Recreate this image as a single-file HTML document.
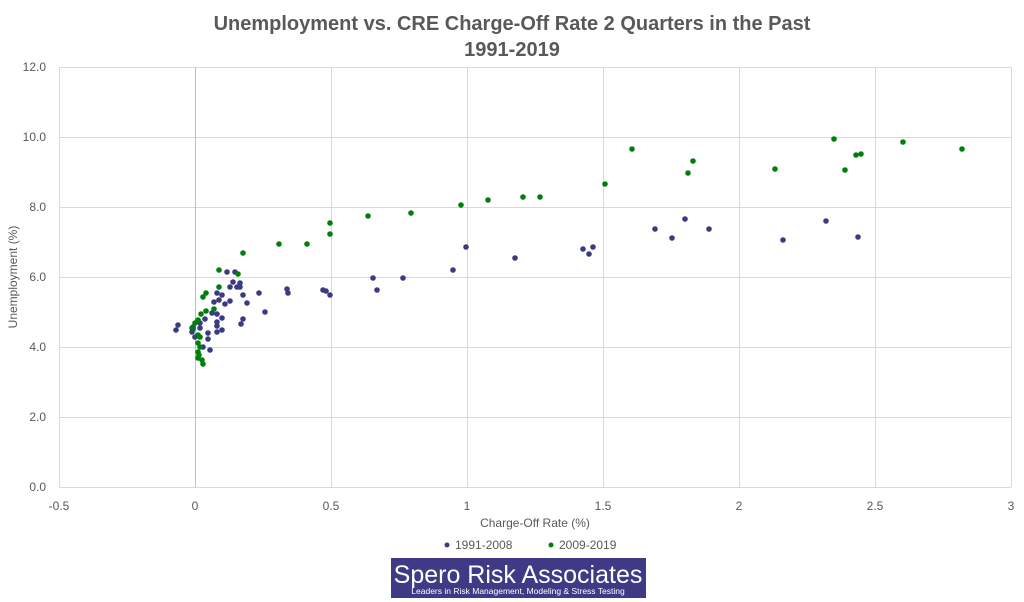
<!DOCTYPE html><html><head><style>body{margin:0;background:#fff}svg{display:block}text{font-family:"Liberation Sans",sans-serif}</style></head><body>
<svg width="1024" height="602" viewBox="0 0 1024 602" xmlns="http://www.w3.org/2000/svg">
<rect width="1024" height="602" fill="#fff"/>
<text x="512" y="30" font-size="20" font-weight="bold" fill="#595959" text-anchor="middle">Unemployment vs. CRE Charge-Off Rate 2 Quarters in the Past</text>
<text x="512" y="56" font-size="20" font-weight="bold" fill="#595959" text-anchor="middle">1991-2019</text>
<g stroke="#d9d9d9" stroke-width="1">
<line x1="59" y1="67.5" x2="1011" y2="67.5"/><line x1="59" y1="137.5" x2="1011" y2="137.5"/><line x1="59" y1="207.5" x2="1011" y2="207.5"/><line x1="59" y1="277.5" x2="1011" y2="277.5"/><line x1="59" y1="347.5" x2="1011" y2="347.5"/><line x1="59" y1="417.5" x2="1011" y2="417.5"/><line x1="59" y1="487.5" x2="1011" y2="487.5"/>
<line x1="59.5" y1="67" x2="59.5" y2="487"/><line x1="331.5" y1="67" x2="331.5" y2="487"/><line x1="467.5" y1="67" x2="467.5" y2="487"/><line x1="603.5" y1="67" x2="603.5" y2="487"/><line x1="739.5" y1="67" x2="739.5" y2="487"/><line x1="875.5" y1="67" x2="875.5" y2="487"/><line x1="1011.5" y1="67" x2="1011.5" y2="487"/>
</g>
<line x1="195.5" y1="67" x2="195.5" y2="487" stroke="#bfbfbf"/>
<g font-size="12" fill="#595959" text-anchor="end">
<text x="46" y="71">12.0</text><text x="46" y="141">10.0</text><text x="46" y="211">8.0</text><text x="46" y="281">6.0</text><text x="46" y="351">4.0</text><text x="46" y="421">2.0</text><text x="46" y="491">0.0</text></g>
<g font-size="12" fill="#595959" text-anchor="middle">
<text x="59" y="510">-0.5</text><text x="195" y="510">0</text><text x="331" y="510">0.5</text><text x="467" y="510">1</text><text x="603" y="510">1.5</text><text x="739" y="510">2</text><text x="875" y="510">2.5</text><text x="1011" y="510">3</text></g>
<text x="535" y="527" font-size="12" fill="#595959" text-anchor="middle">Charge-Off Rate (%)</text>
<text transform="translate(17,277) rotate(-90)" font-size="12" fill="#595959" text-anchor="middle">Unemployment (%)</text>
<circle cx="447" cy="545" r="2.5" fill="#3b3b83"/><text x="455" y="549" font-size="12" fill="#595959">1991-2008</text>
<circle cx="551" cy="545" r="2.5" fill="#00800a"/><text x="559" y="549" font-size="12" fill="#595959">2009-2019</text>
<rect x="391" y="558" width="255" height="40" fill="#3f3a85"/>
<text x="518" y="583" font-size="25" fill="#fff" text-anchor="middle">Spero Risk Associates</text>
<text x="518" y="594" font-size="8.5" fill="#fff" text-anchor="middle">Leaders in Risk Management, Modeling &amp; Stress Testing</text>
<g fill="#3b3b83">
<circle cx="176" cy="330" r="2.8"/><circle cx="178" cy="325" r="2.8"/><circle cx="227" cy="272" r="2.8"/><circle cx="235" cy="272" r="2.8"/><circle cx="233" cy="282" r="2.8"/><circle cx="240" cy="283" r="2.8"/><circle cx="237" cy="287" r="2.8"/><circle cx="230" cy="287" r="2.8"/><circle cx="240" cy="287" r="2.8"/><circle cx="287" cy="289" r="2.8"/><circle cx="259" cy="293" r="2.8"/><circle cx="243" cy="295" r="2.8"/><circle cx="247" cy="303" r="2.8"/><circle cx="265" cy="312" r="2.8"/><circle cx="222" cy="295" r="2.8"/><circle cx="217" cy="293" r="2.8"/><circle cx="214" cy="302" r="2.8"/><circle cx="219" cy="300" r="2.8"/><circle cx="225" cy="304" r="2.8"/><circle cx="230" cy="301" r="2.8"/><circle cx="212" cy="313" r="2.8"/><circle cx="217" cy="314" r="2.8"/><circle cx="222" cy="318" r="2.8"/><circle cx="217" cy="322" r="2.8"/><circle cx="217" cy="326" r="2.8"/><circle cx="222" cy="330" r="2.8"/><circle cx="217" cy="332" r="2.8"/><circle cx="208" cy="333" r="2.8"/><circle cx="208" cy="339" r="2.8"/><circle cx="243" cy="319" r="2.8"/><circle cx="241" cy="324" r="2.8"/><circle cx="205" cy="319" r="2.8"/><circle cx="200" cy="323" r="2.8"/><circle cx="200" cy="328" r="2.8"/><circle cx="193" cy="329" r="2.8"/><circle cx="192" cy="332" r="2.8"/><circle cx="195" cy="337" r="2.8"/><circle cx="203" cy="347" r="2.8"/><circle cx="210" cy="350" r="2.8"/><circle cx="193" cy="327" r="2.8"/>
<circle cx="288" cy="293" r="2.8"/><circle cx="323" cy="290" r="2.8"/><circle cx="326" cy="291" r="2.8"/><circle cx="330" cy="295" r="2.8"/><circle cx="373" cy="278" r="2.8"/><circle cx="377" cy="290" r="2.8"/><circle cx="403" cy="278" r="2.8"/><circle cx="453" cy="270" r="2.8"/><circle cx="466" cy="247" r="2.8"/><circle cx="515" cy="258" r="2.8"/><circle cx="583" cy="249" r="2.8"/><circle cx="589" cy="254" r="2.8"/><circle cx="593" cy="247" r="2.8"/><circle cx="655" cy="229" r="2.8"/><circle cx="672" cy="238" r="2.8"/><circle cx="685" cy="219" r="2.8"/><circle cx="709" cy="229" r="2.8"/><circle cx="783" cy="240" r="2.8"/><circle cx="826" cy="221" r="2.8"/><circle cx="858" cy="237" r="2.8"/>
</g>
<g fill="#00800a">
<circle cx="279" cy="244" r="2.8"/><circle cx="243" cy="253" r="2.8"/><circle cx="219" cy="270" r="2.8"/><circle cx="238" cy="274" r="2.8"/><circle cx="219" cy="287" r="2.8"/><circle cx="206" cy="293" r="2.8"/><circle cx="203" cy="297" r="2.8"/><circle cx="214" cy="309" r="2.8"/><circle cx="206" cy="311" r="2.8"/><circle cx="201" cy="314" r="2.8"/><circle cx="198" cy="320" r="2.8"/><circle cx="195" cy="323" r="2.8"/><circle cx="192" cy="328" r="2.8"/><circle cx="198" cy="335" r="2.8"/><circle cx="200" cy="337" r="2.8"/><circle cx="198" cy="343" r="2.8"/><circle cx="200" cy="347" r="2.8"/><circle cx="198" cy="352" r="2.8"/><circle cx="199" cy="355" r="2.8"/><circle cx="198" cy="358" r="2.8"/><circle cx="202" cy="360" r="2.8"/><circle cx="203" cy="364" r="2.8"/>
<circle cx="307" cy="244" r="2.8"/><circle cx="330" cy="223" r="2.8"/><circle cx="330" cy="234" r="2.8"/><circle cx="368" cy="216" r="2.8"/><circle cx="411" cy="213" r="2.8"/><circle cx="461" cy="205" r="2.8"/><circle cx="488" cy="200" r="2.8"/><circle cx="523" cy="197" r="2.8"/><circle cx="540" cy="197" r="2.8"/><circle cx="605" cy="184" r="2.8"/><circle cx="632" cy="149" r="2.8"/><circle cx="688" cy="173" r="2.8"/><circle cx="693" cy="161" r="2.8"/><circle cx="775" cy="169" r="2.8"/><circle cx="834" cy="139" r="2.8"/><circle cx="845" cy="170" r="2.8"/><circle cx="856" cy="155" r="2.8"/><circle cx="861" cy="154" r="2.8"/><circle cx="903" cy="142" r="2.8"/><circle cx="962" cy="149" r="2.8"/>
</g>
</svg></body></html>
